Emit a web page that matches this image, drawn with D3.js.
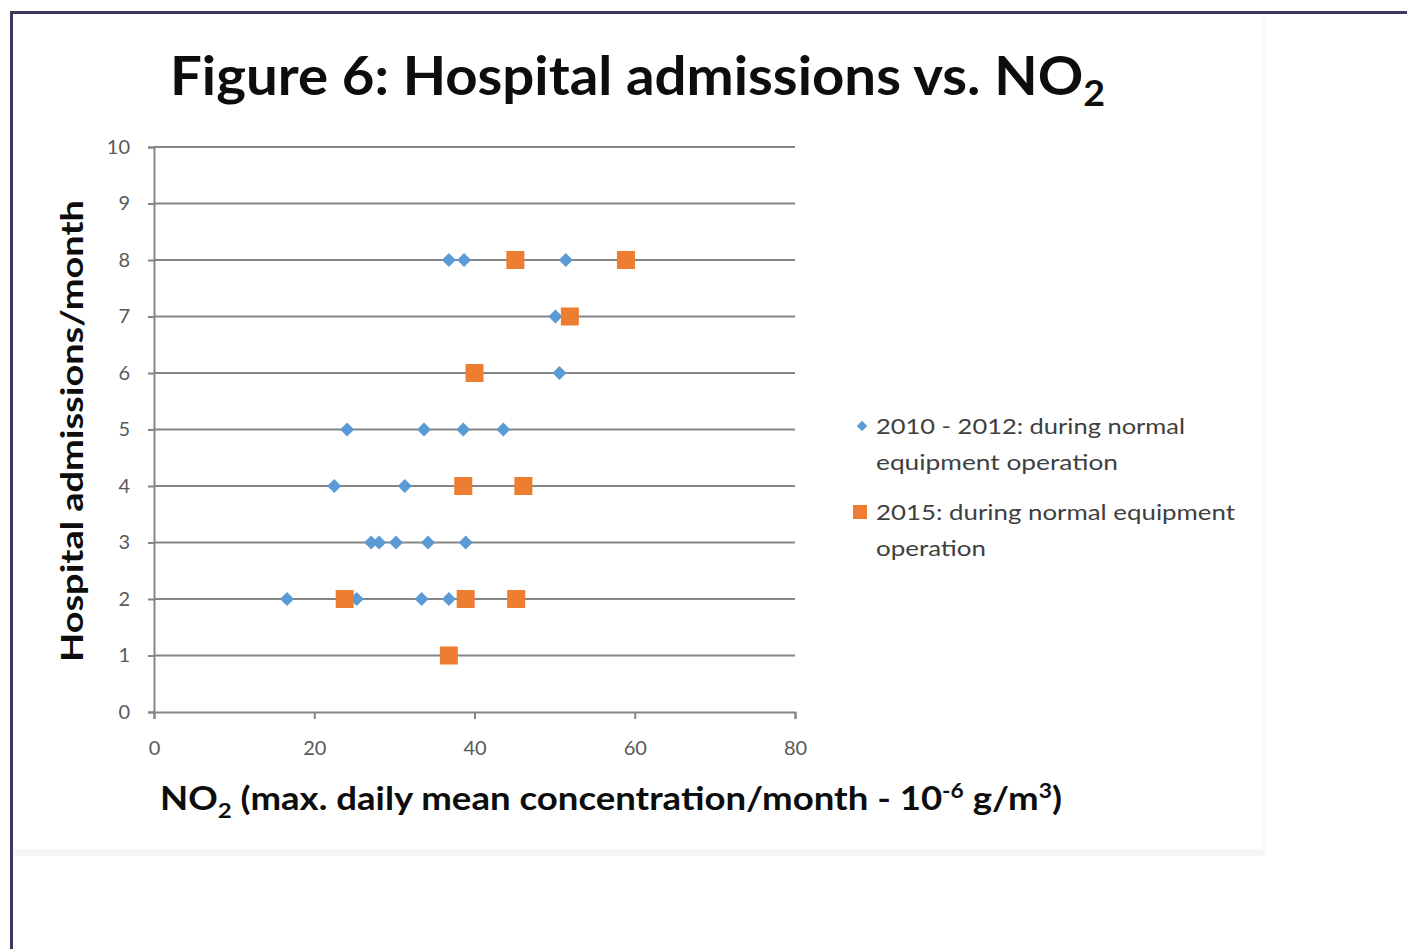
<!DOCTYPE html>
<html>
<head>
<meta charset="utf-8">
<script src="https://cdn.jsdelivr.net/npm/d3@7/dist/d3.min.js"></script>
<style>
  html, body { margin: 0; padding: 0; background: #ffffff; }
  svg { display: block; }
</style>
</head>
<body>
<svg id="chart" width="1407" height="949"></svg>
<script>
// Hospital admissions per month against monthly max daily mean NO2
const series2010No2 = [36.8, 38.7, 51.4, 50.1, 50.6, 24.1, 33.7, 38.6, 43.6, 22.5, 31.3,
                       27.1, 28.1, 30.2, 34.2, 38.9, 16.6, 25.3, 33.4, 36.8];
const series2010Adm = [8, 8, 8, 7, 6, 5, 5, 5, 5, 4, 4,
                       3, 3, 3, 3, 3, 2, 2, 2, 2];
const series2015No2 = [45.1, 58.9, 51.9, 40.0, 38.6, 46.1, 23.8, 38.9, 45.2, 36.8];
const series2015Adm = [8, 8, 7, 6, 4, 4, 2, 2, 2, 1];
const xTicks = [0, 20, 40, 60, 80];
const yTicks = [0, 1, 2, 3, 4, 5, 6, 7, 8, 9, 10];
const legendLabels = [
  ["2010 - 2012: during normal", "equipment operation"],
  ["2015: during normal equipment", "operation"]
];
const legendLineWidths = [[309, 242], [359, 110]];

const BLUE = "#5B9BD5", ORANGE = "#ED7D31", GRID = "#858585", TICKTXT = "#595959";
const FONT = "Lato, 'Open Sans', sans-serif";
const svg = d3.select("#chart");

// page frame and chart area
svg.append("rect").attr("x", 12).attr("y", 14).attr("width", 1254).attr("height", 842)
  .attr("fill", "#ffffff");
svg.append("rect").attr("x", 12).attr("y", 849).attr("width", 1254).attr("height", 7)
  .attr("fill", "#f6f6f6");
svg.append("rect").attr("x", 1262).attr("y", 14).attr("width", 4).attr("height", 842)
  .attr("fill", "#f8f8f8");
svg.append("line").attr("x1", 11).attr("x2", 1407).attr("y1", 12.5).attr("y2", 12.5)
  .attr("stroke", "#3b3a5c").attr("stroke-width", 3);
svg.append("line").attr("x1", 11.5).attr("x2", 11.5).attr("y1", 11).attr("y2", 949)
  .attr("stroke", "#3b3a5c").attr("stroke-width", 3);

const x = d3.scaleLinear().domain([0, 80]).range([154, 795]);
const y = d3.scaleLinear().domain([0, 10]).range([712, 147]);

// horizontal gridlines
svg.append("g").selectAll("line").data(yTicks.filter(d => d > 0)).join("line")
  .attr("x1", x(0)).attr("x2", x(80))
  .attr("y1", d => y(d)).attr("y2", d => y(d))
  .attr("stroke", GRID).attr("stroke-width", 2);

// y axis
const yAxis = svg.append("g").attr("transform", `translate(${x(0)},0)`)
  .call(d3.axisLeft(y).tickValues(yTicks).tickSize(6).tickPadding(18));
yAxis.select(".domain").attr("stroke", GRID).attr("stroke-width", 2);
yAxis.selectAll(".tick line").attr("stroke", GRID).attr("stroke-width", 2);
yAxis.selectAll(".tick text").attr("fill", TICKTXT)
  .style("font-family", FONT).style("font-size", "20px");

// x axis
const xAxis = svg.append("g").attr("transform", `translate(0,${y(0)})`)
  .call(d3.axisBottom(x).tickValues(xTicks).tickSize(7).tickPadding(22));
xAxis.select(".domain").attr("stroke", GRID).attr("stroke-width", 2);
xAxis.selectAll(".tick line").attr("stroke", GRID).attr("stroke-width", 2);
xAxis.selectAll(".tick text").attr("fill", TICKTXT)
  .style("font-family", FONT).style("font-size", "20px");

// 2010-2012 series: diamonds
const diamond = d3.symbol().type(d3.symbolDiamond2).size(125);
svg.append("g").selectAll("path").data(d3.range(series2010No2.length)).join("path")
  .attr("d", diamond)
  .attr("transform", i => `translate(${x(series2010No2[i])},${y(series2010Adm[i])})`)
  .attr("fill", BLUE);

// 2015 series: squares
const sq = 18;
svg.append("g").selectAll("rect").data(d3.range(series2015No2.length)).join("rect")
  .attr("x", i => x(series2015No2[i]) - sq / 2)
  .attr("y", i => y(series2015Adm[i]) - sq / 2)
  .attr("width", sq).attr("height", sq)
  .attr("fill", ORANGE);

// title
const title = svg.append("text").attr("x", 170).attr("y", 95)
  .attr("textLength", 935).attr("lengthAdjust", "spacingAndGlyphs")
  .style("font-family", FONT).style("font-weight", "bold")
  .style("font-size", "54px").attr("fill", "#0d0d0d");
title.append("tspan").text("Figure 6: Hospital admissions vs. NO");
title.append("tspan").attr("dy", 11).style("font-size", "36px").text("2");

// y axis title
svg.append("text")
  .attr("transform", "translate(83,431) rotate(-90)")
  .attr("text-anchor", "middle")
  .attr("textLength", 462).attr("lengthAdjust", "spacingAndGlyphs")
  .style("font-family", FONT).style("font-weight", "bold")
  .style("font-size", "30px").attr("fill", "#0d0d0d")
  .text("Hospital admissions/month");

// x axis title
const xt = svg.append("text").attr("x", 160).attr("y", 810)
  .attr("textLength", 902).attr("lengthAdjust", "spacingAndGlyphs")
  .style("font-family", FONT).style("font-weight", "bold")
  .style("font-size", "32px").attr("fill", "#0d0d0d");
xt.append("tspan").text("NO");
xt.append("tspan").attr("dy", 8).style("font-size", "21px").text("2");
xt.append("tspan").attr("dy", -8).text(" (max. daily mean concentration/month - 10");
xt.append("tspan").attr("dy", -12).style("font-size", "20px").text("-6");
xt.append("tspan").attr("dy", 12).text(" g/m");
xt.append("tspan").attr("dy", -12).style("font-size", "20px").text("3");
xt.append("tspan").attr("dy", 12).text(")");

// legend
const lg = svg.append("g");
lg.append("path").attr("d", d3.symbol().type(d3.symbolDiamond2).size(70))
  .attr("transform", "translate(862,426)").attr("fill", BLUE);
lg.append("rect").attr("x", 853).attr("y", 505).attr("width", 14).attr("height", 14)
  .attr("fill", ORANGE);
const legendY = [426, 512];
legendLabels.forEach((lines, k) => {
  lines.forEach((t, j) => {
    lg.append("text").attr("x", 876).attr("y", legendY[k] + 8 + j * 36)
      .attr("textLength", legendLineWidths[k][j]).attr("lengthAdjust", "spacingAndGlyphs")
      .style("font-family", FONT)
      .style("font-size", "22px").attr("fill", "#404040")
      .text(t);
  });
});
</script>
</body>
</html>
